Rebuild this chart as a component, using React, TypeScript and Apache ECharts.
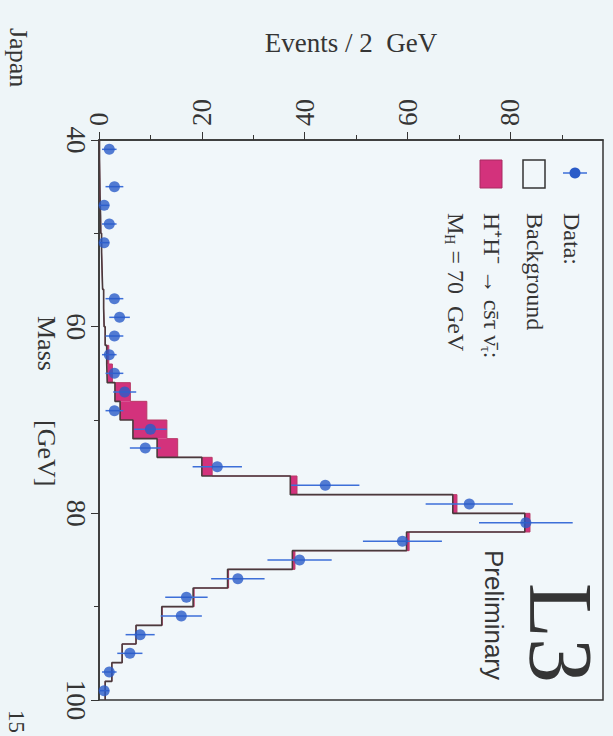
import React, { useEffect, useRef } from "react";
import * as echarts from "echarts";

// Mass bins (GeV), 2 GeV wide, given by their centres
const massBinCenters = [
  41, 43, 45, 47, 49, 51, 53, 55, 57, 59, 61, 63, 65, 67, 69,
  71, 73, 75, 77, 79, 81, 83, 85, 87, 89, 91, 93, 95, 97, 99,
];
const binWidth = 2;

// Observed events per bin
const dataEvents = [
  2, 0, 3, 1, 2, 1, 0, 0, 3, 4, 3, 2, 3, 5, 3,
  10, 9, 23, 44, 72, 83, 59, 39, 27, 17, 16, 8, 6, 2, 1,
];

// Expected Standard Model background per bin
const backgroundEvents = [
  0.1, 0.15, 0.2, 0.3, 0.35, 0.5, 0.6, 0.7, 0.9, 1.0, 1.2, 1.5, 1.6, 3.1, 4.1,
  6.6, 11.3, 20, 37.2, 68.8, 82.8, 59.8, 37.6, 25, 18.3, 12.2, 7.2, 4.5, 2.5, 1.2,
];

// Charged Higgs signal (M_H = 70 GeV), stacked on the background
const signalEvents = [
  0, 0, 0, 0, 0, 0, 0, 0, 0, 0, 0, 0.4, 1.0, 3.0, 5.2,
  6.6, 4.0, 2.0, 1.3, 0.8, 1.0, 0.5, 0.5, 0.2, 0.2, 0.1, 0, 0, 0, 0,
];

const eventTicks = [0, 20, 40, 60, 80];
const eventMinorTicks = [10, 30, 50, 70, 90];
const massRange = [40, 100];
const eventRange = [0, 98];

const SERIF = '"Liberation Serif", "Times New Roman", serif';
const SANS = '"Liberation Sans", Arial, sans-serif';
const INK = "#353535";
const PAGE = "#eef5f8";
const BLUE = "#2a5bc8";
const PINK = "#d3327c";
const CW = -Math.PI / 2;

export default function App() {
  const ref = useRef<HTMLDivElement>(null);

  useEffect(() => {
    const chart = echarts.init(ref.current!, null, { renderer: "svg" });
    const half = binWidth / 2;

    const bgStep = massBinCenters.flatMap((m, i) => [
      [backgroundEvents[i], m - half],
      [backgroundEvents[i], m + half],
    ]);
    const totalStep = massBinCenters.flatMap((m, i) => {
      const t = backgroundEvents[i] + signalEvents[i];
      return [
        [t, m - half],
        [t, m + half],
      ];
    });
    const signalBoxes = massBinCenters
      .map((m, i) => [m, backgroundEvents[i], signalEvents[i]])
      .filter((d) => d[2] > 0);
    const points = massBinCenters
      .map((m, i) => [dataEvents[i], m])
      .filter((d) => d[0] > 0);

    const vText = (
      x: number,
      y: number,
      text: string,
      fontSize: number,
      fontFamily = SERIF,
      extra: any = {}
    ) => ({
      type: "text",
      x,
      y,
      rotation: CW,
      z: 100,
      style: {
        text,
        fontSize,
        fontFamily,
        fill: INK,
        align: "left",
        verticalAlign: "middle",
        ...extra,
      },
    });

    const richLegend = {
      t: { fontSize: 24, fontFamily: SERIF, fill: INK, lineHeight: 28 },
      s: { fontSize: 14, fontFamily: SERIF, fill: INK, lineHeight: 28, verticalAlign: "bottom", padding: [12, 0, 0, 0] },
    };

    chart.setOption({
      animation: false,
      backgroundColor: PAGE,
      grid: {
        left: 99,
        top: 140,
        width: 504,
        height: 560,
        show: true,
        borderColor: INK,
        borderWidth: 1.5,
        backgroundColor: "#f1f7fa",
      },
      xAxis: [
        {
          type: "value",
          position: "top",
          min: eventRange[0],
          max: eventRange[1],
          interval: 20,
          name: "Events / 2  GeV",
          nameLocation: "middle",
          nameGap: 84,
          nameTextStyle: { fontFamily: SERIF, fontSize: 27, color: INK },
          axisLine: { show: true, lineStyle: { color: INK, width: 1.5 } },
          axisTick: {
            show: true,
            length: 8,
            customValues: eventTicks,
            lineStyle: { color: INK, width: 1 },
          },
          axisLabel: {
            customValues: eventTicks,
            rotate: -90,
            margin: 14,
            fontFamily: SERIF,
            fontSize: 27,
            color: INK,
          },
          splitLine: { show: false },
        },
        {
          type: "value",
          position: "top",
          min: eventRange[0],
          max: eventRange[1],
          interval: 20,
          axisLine: { show: false },
          axisTick: {
            show: true,
            length: 5,
            customValues: eventMinorTicks,
            lineStyle: { color: INK, width: 1 },
          },
          axisLabel: { show: false },
          splitLine: { show: false },
        },
      ],
      yAxis: {
        type: "value",
        inverse: true,
        min: massRange[0],
        max: massRange[1],
        interval: 20,
        axisLine: { show: true, lineStyle: { color: INK, width: 1.5 } },
        axisTick: { show: true, length: 8, lineStyle: { color: INK, width: 1 } },
        minorTick: { show: true, splitNumber: 2, length: 5, lineStyle: { color: INK, width: 1 } },
        axisLabel: {
          rotate: -90,
          margin: 10,
          fontFamily: SERIF,
          fontSize: 27,
          color: INK,
        },
        splitLine: { show: false },
        minorSplitLine: { show: false },
      },
      series: [
        {
          type: "custom",
          name: "signal",
          xAxisIndex: 0,
          yAxisIndex: 0,
          encode: { x: 1, y: 0 },
          data: signalBoxes,
          z: 2,
          renderItem: (_p: any, api: any) => {
            const m = api.value(0);
            const b = api.value(1);
            const s = api.value(2);
            const p0 = api.coord([b, m - half]);
            const p1 = api.coord([b + s, m + half]);
            return {
              type: "rect",
              shape: {
                x: p0[0],
                y: Math.min(p0[1], p1[1]),
                width: p1[0] - p0[0],
                height: Math.abs(p1[1] - p0[1]),
              },
              style: { fill: PINK },
            };
          },
        },
        {
          type: "line",
          name: "total",
          data: totalStep,
          symbol: "none",
          z: 3,
          lineStyle: { color: "#b83a66", width: 1 },
        },
        {
          type: "line",
          name: "background",
          data: bgStep,
          symbol: "none",
          z: 4,
          lineStyle: { color: "#4a3a3c", width: 1.6 },
        },
        {
          type: "custom",
          name: "errors",
          encode: { x: 0, y: 1 },
          data: points,
          z: 5,
          renderItem: (_p: any, api: any) => {
            const n = api.value(0);
            const m = api.value(1);
            const e = Math.sqrt(n);
            const p0 = api.coord([n - e, m]);
            const p1 = api.coord([n + e, m]);
            return {
              type: "line",
              shape: { x1: p0[0], y1: p0[1], x2: p1[0], y2: p1[1] },
              style: { stroke: "#3d6fd8", lineWidth: 1.5 },
            };
          },
        },
        {
          type: "scatter",
          name: "data",
          data: points,
          symbol: "circle",
          symbolSize: 11,
          z: 6,
          itemStyle: { color: BLUE },
        },
      ],
      graphic: [
        // legend
        { type: "line", z: 100, shape: { x1: 563, y1: 173, x2: 587, y2: 173 }, style: { stroke: "#3d6fd8", lineWidth: 1.5 } },
        { type: "circle", z: 100, shape: { cx: 575, cy: 173, r: 5.5 }, style: { fill: BLUE } },
        vText(572, 213, "Data:", 24),
        { type: "rect", z: 100, shape: { x: 523, y: 160, width: 22, height: 28 }, style: { fill: "none", stroke: INK, lineWidth: 1.5 } },
        vText(535, 213, "Background", 24),
        { type: "rect", z: 100, shape: { x: 480, y: 160, width: 22, height: 28 }, style: { fill: PINK, stroke: "#a82a60", lineWidth: 1 } },
        vText(492, 213, "{t|H⁺H⁻ → cs̄τ ν̄}{s|τ}{t|:}", 24, SERIF, { rich: richLegend }),
        vText(456, 213, "{t|M}{s|H}{t| = 70  GeV}", 24, SERIF, { rich: richLegend }),
        // experiment label
        vText(560, 583, "L3", 90),
        vText(494, 550, "Preliminary", 26, SANS),
        // axis title and margin texts
        vText(46, 316, "Mass", 26),
        vText(46, 420, "[GeV]", 26),
        vText(18, 28, "Japan", 26),
        vText(16, 710, "15", 23),
      ],
    });

    return () => chart.dispose();
  }, []);

  return (
    <div
      ref={ref}
      style={{ position: "fixed", left: 0, top: 0, width: 613, height: 736, background: PAGE }}
    />
  );
}
